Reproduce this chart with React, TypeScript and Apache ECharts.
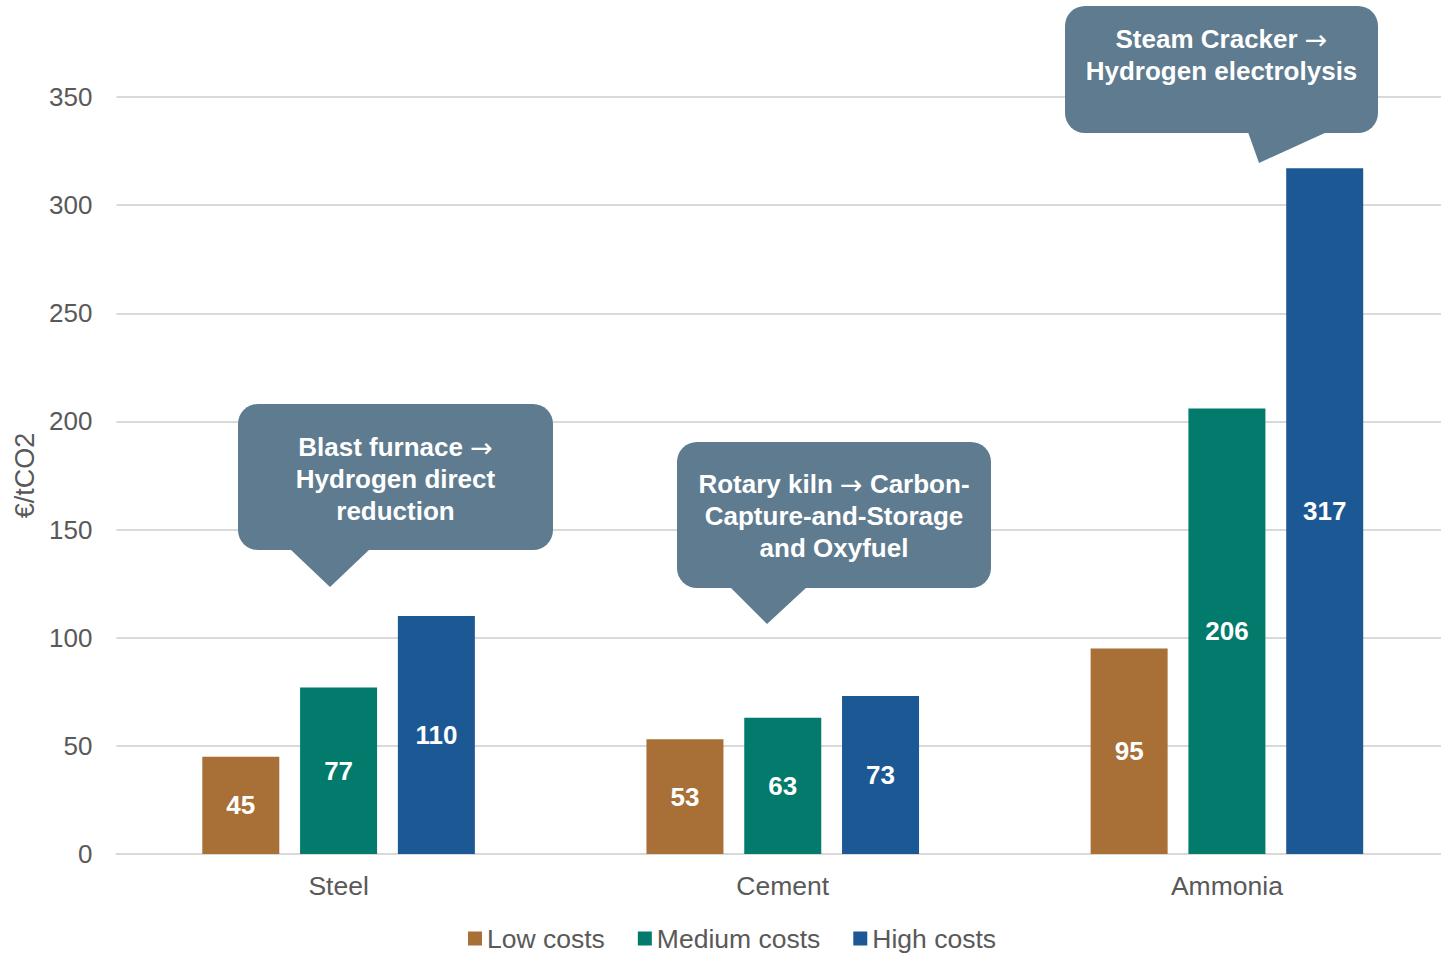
import React, { useEffect, useRef } from "react";
import * as echarts from "echarts";

// Abatement cost per tonne of CO2 by industrial process
const categories = ["Steel", "Cement", "Ammonia"];
const lowCosts = [45, 53, 95];
const mediumCosts = [77, 63, 206];
const highCosts = [110, 73, 317];
const seriesNames = ["Low costs", "Medium costs", "High costs"];
const yMax = 350;
const yInterval = 50;

// Callout texts describing the process switch per sector ({a|...} marks the arrow glyph)
const calloutTexts = [
  "Blast furnace {a|\u2192}\nHydrogen direct\nreduction",
  "Rotary kiln {a|\u2192} Carbon-\nCapture-and-Storage\nand Oxyfuel",
  "Steam Cracker {a|\u2192}\nHydrogen electrolysis",
];

const FONT = "'Liberation Sans', Arial, Helvetica, sans-serif";
const ARROW_FONT = "'DejaVu Sans', 'Liberation Sans', sans-serif";
const AXIS_TEXT = "#595959";
const GRID_LINE = "#D9D9D9";
const BUBBLE = "#5E7B8F";
const COLORS = ["#A86F36", "#027A6C", "#1C5994"];

type Bubble = {
  box: [number, number, number, number]; // x, y, w, h
  pointer: [number, number][];
  textX: number;
  textY: number;
  text: string;
};

const bubbles: Bubble[] = [
  {
    box: [238, 404, 315, 146],
    pointer: [[290, 549], [370, 549], [330, 587]],
    textX: 395.5,
    textY: 431,
    text: calloutTexts[0],
  },
  {
    box: [677, 442, 314, 146],
    pointer: [[730, 587], [807, 587], [767, 624]],
    textX: 834,
    textY: 468,
    text: calloutTexts[1],
  },
  {
    box: [1065, 6, 313, 127],
    pointer: [[1248, 132], [1327, 132], [1259, 163]],
    textX: 1221.5,
    textY: 23,
    text: calloutTexts[2],
  },
];

function buildGraphic() {
  const elements: any[] = [];
  bubbles.forEach((b) => {
    elements.push({
      type: "rect",
      shape: { x: b.box[0], y: b.box[1], width: b.box[2], height: b.box[3], r: 20 },
      style: { fill: BUBBLE },
      z: 100,
    });
    elements.push({
      type: "polygon",
      shape: { points: b.pointer },
      style: { fill: BUBBLE },
      z: 100,
    });
    elements.push({
      type: "text",
      x: b.textX,
      y: b.textY,
      style: {
        text: b.text,
        fill: "#FFFFFF",
        fontFamily: FONT,
        fontSize: 26,
        fontWeight: "bold",
        align: "center",
        verticalAlign: "top",
        lineHeight: 32,
        rich: {
          a: {
            fontFamily: ARROW_FONT,
            fontSize: 27,
            fontWeight: "normal",
            fill: "#FFFFFF",
            lineHeight: 32,
          },
        },
      },
      z: 101,
    });
  });
  return elements;
}

function makeBar(name: string, data: number[], color: string) {
  return {
    name,
    type: "bar",
    data,
    barWidth: 77,
    barGap: "27%",
    itemStyle: { color },
    label: {
      show: true,
      position: "inside",
      color: "#FFFFFF",
      fontWeight: "bold",
      fontSize: 26,
      fontFamily: FONT,
    },
  };
}

export default function App() {
  const ref = useRef<HTMLDivElement>(null);

  useEffect(() => {
    if (!ref.current) return;
    const chart = echarts.init(ref.current, undefined, { renderer: "svg" });
    chart.setOption({
      animation: false,
      backgroundColor: "#FFFFFF",
      textStyle: { fontFamily: FONT },
      color: COLORS,
      grid: { left: 116.5, right: 0, top: 97, bottom: 100, containLabel: false },
      legend: {
        data: seriesNames,
        left: 468,
        top: 925,
        padding: 0,
        icon: "rect",
        itemWidth: 14,
        itemHeight: 14,
        itemGap: 33,
        textStyle: { fontSize: 26.5, color: AXIS_TEXT, fontFamily: FONT },
      },
      xAxis: {
        type: "category",
        data: categories,
        axisTick: { show: false },
        axisLine: { lineStyle: { color: GRID_LINE, width: 2 } },
        axisLabel: { fontSize: 26.5, color: AXIS_TEXT, fontFamily: FONT, margin: 18 },
      },
      yAxis: {
        type: "value",
        min: 0,
        max: yMax,
        interval: yInterval,
        name: "\u20AC/tCO2",
        nameLocation: "middle",
        nameGap: 77,
        nameTextStyle: { fontSize: 27, color: AXIS_TEXT, fontFamily: FONT },
        axisLine: { show: false },
        axisTick: { show: false },
        axisLabel: { fontSize: 26, color: AXIS_TEXT, fontFamily: FONT, margin: 24 },
        splitLine: { lineStyle: { color: GRID_LINE, width: 2 } },
      },
      series: [
        makeBar(seriesNames[0], lowCosts, COLORS[0]),
        makeBar(seriesNames[1], mediumCosts, COLORS[1]),
        makeBar(seriesNames[2], highCosts, COLORS[2]),
      ],
      graphic: buildGraphic(),
    });
    return () => chart.dispose();
  }, []);

  return (
    <div
      style={{
        position: "absolute",
        left: 0,
        top: 0,
        width: 1441,
        height: 954,
        overflow: "hidden",
        background: "#FFFFFF",
      }}
    >
      <div ref={ref} style={{ width: 1449, height: 954 }} />
    </div>
  );
}
